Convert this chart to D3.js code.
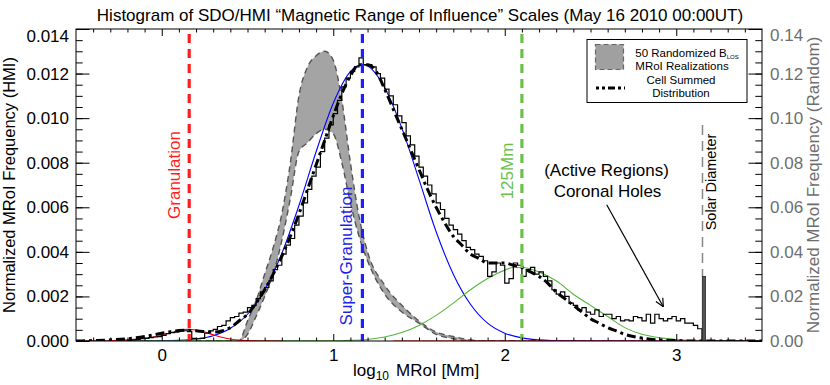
<!DOCTYPE html>
<head>
<meta charset="utf-8">
<style>
  body { margin: 0; background: #fff; }
  svg { display: block; font-family: "Liberation Sans", Arial, Helvetica, sans-serif; }
  .frame { fill: none; stroke: #000; stroke-width: 1; }
  .axis path { display: none; }
  .axis line { stroke: #000; stroke-width: 1; }
  .axis text { font-size: 17px; font-family: "Liberation Sans", Arial, sans-serif; }
  .axis--right text { fill: #6e6e6e; }
</style>
<title>MRoI histogram</title>
<script src="https://d3js.org/d3.v7.min.js"></script>
</head>
<body>
<div id="chart"></div>
<script>
// ---- data (left axis units unless noted) ----
var xTicks = [0, 1, 2, 3];
var yTicksLeft = [0, 0.002, 0.004, 0.006, 0.008, 0.010, 0.012, 0.014];
var yTicksRight = [0, 0.02, 0.04, 0.06, 0.08, 0.10, 0.12, 0.14];

// HMI MRoI histogram, bins of 0.025 starting at -0.2
var histStart = -0.2, histBin = 0.025;
var histValues = [
  0.00003, 0.00005, 0.00007, 0.0001, 0.00012, 0.00015, 0.00018, 0.0002,
  0.00025, 0.00033, 0.00038, 0.0004, 0.00045, 0.00046, 0.00042, 0.00012,
  0.0001, 0.00012, 0.00035, 0.00045, 0.00052, 0.00065, 0.0007, 0.0009,
  0.00105, 0.0011, 0.00125, 0.0013, 0.0015, 0.0016, 0.0019, 0.0022,
  0.0024, 0.0027, 0.0032, 0.0034, 0.0039, 0.0043, 0.0046, 0.0052,
  0.0056, 0.0062, 0.0068, 0.0074, 0.0078, 0.0085, 0.0091, 0.0097,
  0.0102, 0.0108, 0.0114, 0.0118, 0.0121, 0.0123, 0.0127, 0.0124,
  0.0124, 0.0123, 0.0120, 0.0118, 0.0113, 0.0110, 0.0106, 0.0101,
  0.0098, 0.0092, 0.0088, 0.0083, 0.0078, 0.0074, 0.0070, 0.0066,
  0.0062, 0.0059, 0.0055, 0.0052, 0.0050, 0.0048, 0.0045, 0.0042,
  0.0041, 0.0039, 0.0038, 0.0036, 0.0029, 0.0031, 0.0035, 0.0034,
  0.0026, 0.0028, 0.0035, 0.0034, 0.0029, 0.0032, 0.0033, 0.0030,
  0.0031, 0.0029, 0.0027, 0.0023, 0.0021, 0.0022, 0.0020, 0.0017,
  0.0016, 0.0014, 0.0015, 0.0013, 0.0012, 0.0014, 0.0011, 0.0012,
  0.0012, 0.0010, 0.0011, 0.0009, 0.00095, 0.0009, 0.0011, 0.00105,
  0.0009, 0.0012, 0.0008, 0.0012, 0.0010, 0.0009, 0.0010, 0.0011,
  0.0009, 0.0010, 0.0008, 0.0008, 0.0007, 0.00055
];

// cell summed distribution
var cellX = [-0.5, -0.4, -0.3, -0.2, -0.1, 0.0, 0.05, 0.1, 0.15, 0.2, 0.25, 0.3, 0.35, 0.4, 0.45,
  0.5, 0.55, 0.6, 0.65, 0.7, 0.75, 0.8, 0.85, 0.9, 0.95, 1.0, 1.05, 1.1, 1.15, 1.2, 1.25,
  1.3, 1.35, 1.4, 1.45, 1.5, 1.55, 1.6, 1.65, 1.7, 1.75, 1.8, 1.85, 1.9, 1.95, 2.0, 2.05,
  2.1, 2.15, 2.2, 2.25, 2.3, 2.35, 2.4, 2.45, 2.5, 2.55, 2.6, 2.65, 2.7, 2.75, 2.8, 2.85,
  2.9, 3.0, 3.1, 3.5];
var cellY = [0, 0.00002, 0.00005, 0.0001, 0.0002, 0.00035, 0.00042, 0.00047, 0.00048, 0.00046, 0.00042, 0.0004, 0.00045, 0.0006, 0.0009,
  0.0012, 0.0017, 0.0023, 0.0030, 0.0038, 0.0047, 0.0057, 0.0068, 0.0079, 0.0090, 0.0101, 0.0111, 0.0119, 0.0124, 0.0124, 0.0121,
  0.0113, 0.0104, 0.0095, 0.0086, 0.0077, 0.0068, 0.0060, 0.0053, 0.0047, 0.0043, 0.0039, 0.0037, 0.0035, 0.0035, 0.0035, 0.0034,
  0.0033, 0.0031, 0.0029, 0.0026, 0.0022, 0.0019, 0.0016, 0.0013, 0.0010, 0.0008, 0.0006, 0.00045, 0.0003, 0.0002, 0.00013, 0.00008,
  0.00005, 0.00002, 0, 0];

// fitted components
var redX = [-0.5, -0.4, -0.3, -0.2, -0.1, 0.0, 0.05, 0.1, 0.15, 0.2, 0.25, 0.3, 0.35, 0.4, 0.45, 0.5, 0.6, 0.7, null, 1.35, 3.5];
var redY = [0, 0, 0.00001, 0.00005, 0.00012, 0.00026, 0.00037, 0.00047, 0.00052, 0.00049, 0.0004, 0.00028, 0.00017, 0.00009, 0.00004, 0.00002, 0, 0, null, 0, 0];

var blueX = [-0.5, 0.0, 0.1, 0.2, 0.3, 0.4, 0.5, 0.6, 0.7, 0.8, 0.9, 1.0, 1.1, 1.17, 1.2, 1.3, 1.4, 1.5,
  1.6, 1.7, 1.8, 1.9, 2.0, 2.1, 2.2, 2.3, 2.5, 3.5];
var blueY = [0, 0.00001, 0.00003, 0.00009, 0.00024, 0.00057, 0.0012, 0.00229, 0.00393, 0.00608, 0.00849, 0.01067, 0.01209, 0.0124, 0.01234, 0.01136, 0.00955, 0.00725,
  0.0049, 0.003, 0.00165, 0.0008, 0.00035, 0.00014, 0.00005, 0.00001, 0, 0];

var greenX = [-0.5, 1.0, 1.1, 1.2, 1.3, 1.4, 1.5, 1.6, 1.7, 1.8, 1.9, 2.0, 2.05, 2.1, 2.2, 2.3,
  2.4, 2.5, 2.6, 2.7, 2.8, 2.9, 3.0, 3.1, 3.2, 3.5];
var greenY = [0, 0.00001, 0.00003, 0.00007, 0.00018, 0.00038, 0.0007, 0.00115, 0.0017, 0.0023, 0.0028, 0.00318, 0.0033, 0.0033, 0.0031, 0.0027,
  0.0021, 0.0016, 0.0011, 0.0006, 0.0003, 0.00015, 0.00007, 0.00003, 0.00001, 0];

// 50 randomized realizations envelope (right axis units)
var bandX = [-0.5, 0.45, 0.5, 0.55, 0.6, 0.65, 0.7, 0.75, 0.8, 0.85, 0.9, 0.95, 1.0, 1.05, 1.1, 1.15,
  1.2, 1.3, 1.4, 1.5, 1.6, 1.7, 1.8, 1.9, 3.5];
var bandUpper = [0, 0, 0.009, 0.018, 0.030, 0.042, 0.057, 0.080, 0.110, 0.123, 0.128, 0.130, 0.126, 0.108, 0.080, 0.056,
  0.040, 0.025, 0.016, 0.009, 0.004, 0.002, 0.0005, 0, 0];
var bandLower = [0, 0, 0.003, 0.011, 0.020, 0.030, 0.045, 0.064, 0.085, 0.089, 0.093, 0.095, 0.093, 0.080, 0.062, 0.047,
  0.036, 0.021, 0.013, 0.008, 0.003, 0.001, 0, 0, 0];
var solarSpike = [3.152, 3.170, 0.029];   // x0, x1, height (right axis)

// scale markers (log10 Mm)
var markerX = [0.16, 1.17, 2.1];
var solarX = 3.153;

// ---- drawing ----
var W = 830, H = 385;
var svg = d3.select("#chart").append("svg").attr("width", W).attr("height", H);

var x = d3.scaleLinear().domain([-0.5, 3.5]).range([76, 762]);
var y = d3.scaleLinear().domain([0, 0.014]).range([341, 29]);
var y2 = d3.scaleLinear().domain([0, 0.14]).range([341, 29]);

svg.append("defs").append("clipPath").attr("id", "plot-clip")
  .append("rect").attr("x", 76).attr("y", 29).attr("width", 686).attr("height", 312);

var plot = svg.append("g").attr("clip-path", "url(#plot-clip)");

// gray band
var bandData = bandX.map(function (d, i) { return { x: d, hi: bandUpper[i], lo: bandLower[i] }; });
plot.append("path")
  .datum(bandData)
  .attr("fill", "#a4a4a4")
  .attr("d", d3.area().curve(d3.curveMonotoneX)
    .x(function (d) { return x(d.x); })
    .y0(function (d) { return y2(d.lo); })
    .y1(function (d) { return y2(d.hi); }));
["hi", "lo"].forEach(function (k) {
  plot.append("path")
    .datum(bandData)
    .attr("fill", "none")
    .attr("stroke", "#555")
    .attr("stroke-width", 1.4)
    .attr("stroke-dasharray", "6,4")
    .attr("d", d3.line().curve(d3.curveMonotoneX)
      .x(function (d) { return x(d.x); })
      .y(function (d) { return y2(d[k]); }));
});

function comp(xs, ys, color) {
  var pts = xs.map(function (d, i) { return [d, ys[i]]; });
  plot.append("path")
    .datum(pts)
    .attr("fill", "none")
    .attr("stroke", color)
    .attr("stroke-width", 1.1)
    .attr("d", d3.line().curve(d3.curveMonotoneX)
      .defined(function (d) { return d[0] !== null; })
      .x(function (d) { return x(d[0]); })
      .y(function (d) { return y(d[1]); }));
}
comp(blueX, blueY, "#0000ff");
comp(greenX, greenY, "#55b53c");
comp(redX, redY, "#ff0000");

// histogram (steps)
var histPts = [[histStart, 0]];
histValues.forEach(function (v, i) { histPts.push([histStart + i * histBin, v]); });
histPts.push([histStart + histValues.length * histBin, 0]);
histPts.push([3.5, 0]);
plot.append("path")
  .datum(histPts)
  .attr("fill", "none")
  .attr("stroke", "#000")
  .attr("stroke-width", 1.2)
  .attr("d", d3.line().curve(d3.curveStepAfter)
    .x(function (d) { return x(d[0]); })
    .y(function (d) { return y(d[1]); }));

// cell summed distribution
plot.append("path")
  .datum(cellX.map(function (d, i) { return [d, cellY[i]]; }))
  .attr("fill", "none")
  .attr("stroke", "#000")
  .attr("stroke-width", 3)
  .attr("stroke-dasharray", "9,4,3,4")
  .attr("d", d3.line().curve(d3.curveMonotoneX)
    .x(function (d) { return x(d[0]); })
    .y(function (d) { return y(d[1]); }));

// solar diameter
plot.append("line")
  .attr("x1", x(solarX)).attr("x2", x(solarX))
  .attr("y1", 125).attr("y2", y2(solarSpike[2]))
  .attr("stroke", "#888").attr("stroke-width", 1.5)
  .attr("stroke-dasharray", "10,6");
plot.append("rect")
  .attr("x", x(solarSpike[0])).attr("width", x(solarSpike[1]) - x(solarSpike[0]))
  .attr("y", y2(solarSpike[2])).attr("height", y2(0) - y2(solarSpike[2]))
  .attr("fill", "#555").attr("stroke", "#222").attr("stroke-width", 0.8);

// vertical scale markers
var markerColors = ["#ff1e1e", "#1e1eff", "#6cc04a"];
markerX.forEach(function (m, i) {
  plot.append("line")
    .attr("x1", x(m)).attr("x2", x(m))
    .attr("y1", 34).attr("y2", 341)
    .attr("stroke", markerColors[i])
    .attr("stroke-width", 3.2)
    .attr("stroke-dasharray", "9,6");
});

// ---- axes ----
var minorX = d3.range(-4, 35).map(function (d) { return d / 10; }).filter(function (d) { return Math.abs(d - Math.round(d)) > 1e-6; });
var minorY = d3.range(1, 28).map(function (d) { return d * 0.0005; });
var minorY2 = d3.range(1, 28).map(function (d) { return d * 0.005; });

svg.append("g").attr("class", "axis").attr("transform", "translate(0,341)")
  .call(d3.axisBottom(x).tickValues(xTicks).tickSize(-7).tickPadding(8).tickFormat(d3.format("d")));
svg.append("g").attr("class", "axis").attr("transform", "translate(0,341)")
  .call(d3.axisBottom(x).tickValues(minorX).tickSize(-3.5).tickFormat(""));
svg.append("g").attr("class", "axis").attr("transform", "translate(0,29)")
  .call(d3.axisTop(x).tickValues(xTicks).tickSize(-7).tickFormat(""));
svg.append("g").attr("class", "axis").attr("transform", "translate(0,29)")
  .call(d3.axisTop(x).tickValues(minorX).tickSize(-3.5).tickFormat(""));

var leftAxis = svg.append("g").attr("class", "axis").attr("transform", "translate(76,0)")
  .call(d3.axisLeft(y).tickValues(yTicksLeft).tickSize(-13.5).tickPadding(7).tickFormat(d3.format(".3f")));
svg.append("g").attr("class", "axis").attr("transform", "translate(76,0)")
  .call(d3.axisLeft(y).tickValues(minorY).tickSize(-6.7).tickFormat(""));
leftAxis.selectAll(".tick text").filter(function (d) { return d === 0.014; }).attr("dy", "0.75em");

var rightAxis = svg.append("g").attr("class", "axis axis--right").attr("transform", "translate(762,0)")
  .call(d3.axisRight(y2).tickValues(yTicksRight).tickSize(-13.5).tickPadding(8).tickFormat(d3.format(".2f")));
svg.append("g").attr("class", "axis").attr("transform", "translate(762,0)")
  .call(d3.axisRight(y2).tickValues(minorY2).tickSize(-6.7).tickFormat(""));
rightAxis.selectAll(".tick text").filter(function (d) { return d === 0.14; }).attr("dy", "0.7em");

svg.append("rect").attr("class", "frame")
  .attr("x", 76).attr("y", 29).attr("width", 686).attr("height", 312);

// ---- texts ----
svg.append("text")
  .attr("x", 420).attr("y", 20.5)
  .attr("text-anchor", "middle")
  .style("font-size", "17px")
  .text("Histogram of SDO/HMI \u201cMagnetic Range of Influence\u201d Scales (May 16 2010 00:00UT)");

var xl = svg.append("text").attr("x", 353).attr("y", 376).style("font-size", "17px");
xl.append("tspan").text("log");
xl.append("tspan").attr("dy", 4).style("font-size", "12px").text("10");
xl.append("tspan").attr("dy", -4).attr("dx", 7).text("MRoI [Mm]");

svg.append("text")
  .attr("transform", "translate(14.5,185) rotate(-90)")
  .attr("text-anchor", "middle")
  .style("font-size", "16.5px")
  .text("Normalized MRoI Frequency (HMI)");
svg.append("text")
  .attr("transform", "translate(819,185) rotate(-90)")
  .attr("text-anchor", "middle")
  .style("font-size", "17px")
  .attr("fill", "#6e6e6e")
  .text("Normalized MRoI Frequency (Random)");

function vlabel(px, py, txt, color, size) {
  svg.append("text")
    .attr("transform", "translate(" + px + "," + py + ") rotate(-90)")
    .attr("text-anchor", "middle")
    .style("font-size", size + "px")
    .attr("fill", color)
    .text(txt);
}
vlabel(180, 175, "Granulation", "#ff1e1e", 17);
vlabel(352, 256, "Super-Granulation", "#1e1eee", 17);
vlabel(513, 171, "125Mm", "#6cc04a", 17);
vlabel(716, 182, "Solar Diameter", "#000", 14.5);

svg.append("text").attr("x", 606.5).attr("y", 176).attr("text-anchor", "middle")
  .style("font-size", "17px").text("(Active Regions)");
svg.append("text").attr("x", 607.5).attr("y", 197).attr("text-anchor", "middle")
  .style("font-size", "17px").text("Coronal Holes");

// arrow
var ax0 = 606.7, ay0 = 204.7, ax1 = 663.3, ay1 = 306.7;
svg.append("line").attr("x1", ax0).attr("y1", ay0).attr("x2", ax1).attr("y2", ay1)
  .attr("stroke", "#000").attr("stroke-width", 1.2);
var ang = Math.atan2(ay1 - ay0, ax1 - ax0);
[-0.45, 0.45].forEach(function (a) {
  svg.append("line")
    .attr("x1", ax1).attr("y1", ay1)
    .attr("x2", ax1 - 9 * Math.cos(ang + a)).attr("y2", ay1 - 9 * Math.sin(ang + a))
    .attr("stroke", "#000").attr("stroke-width", 1.2);
});

// legend
var lg = svg.append("g");
lg.append("rect").attr("x", 587).attr("y", 39.5).attr("width", 160).attr("height", 63)
  .attr("fill", "#fff").attr("stroke", "#000").attr("stroke-width", 1);
lg.append("rect").attr("x", 595.5).attr("y", 44.5).attr("width", 28).attr("height", 25)
  .attr("fill", "#a0a0a0").attr("stroke", "#666").attr("stroke-width", 1.2).attr("stroke-dasharray", "5,3");
lg.append("line").attr("x1", 596).attr("x2", 625).attr("y1", 88).attr("y2", 88)
  .attr("stroke", "#000").attr("stroke-width", 3).attr("stroke-dasharray", "3,3,3,3,7,3");
var l1 = lg.append("text").attr("x", 687).attr("y", 57).attr("text-anchor", "middle").style("font-size", "11.5px");
l1.append("tspan").text("50 Randomized B");
l1.append("tspan").attr("dy", 2).style("font-size", "6px").text("LOS");
lg.append("text").attr("x", 682).attr("y", 70).attr("text-anchor", "middle").style("font-size", "11.5px").text("MRoI Realizations");
lg.append("text").attr("x", 681).attr("y", 84).attr("text-anchor", "middle").style("font-size", "11.5px").text("Cell Summed");
lg.append("text").attr("x", 681).attr("y", 97).attr("text-anchor", "middle").style("font-size", "11.5px").text("Distribution");
</script>
</body>
